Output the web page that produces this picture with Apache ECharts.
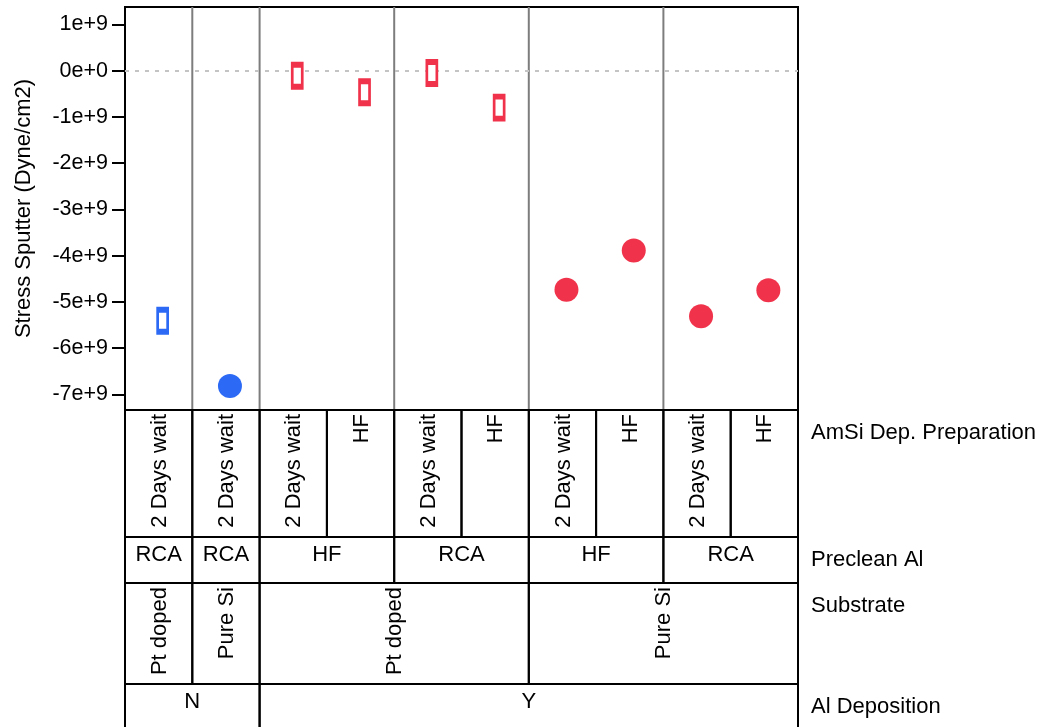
<!DOCTYPE html>
<html><head><meta charset="utf-8">
<script src="https://cdn.jsdelivr.net/npm/echarts@6/dist/echarts.min.js"></script>
<style>html,body{margin:0;padding:0;background:#fff}#c{width:1044px;height:727px}</style>
</head><body><div id="c"></div>
<script>
// ---- data ----
const columns = ['c1','c2','c3','c4','c5','c6','c7','c8','c9','c10'];
const alDeposition = ['N','N','Y','Y','Y','Y','Y','Y','Y','Y'];
const substrate = ['Pt doped','Pure Si','Pt doped','Pt doped','Pt doped','Pt doped','Pure Si','Pure Si','Pure Si','Pure Si'];
const precleanAl = ['RCA','RCA','HF','HF','RCA','RCA','HF','HF','RCA','RCA'];
const amsiPrep = ['2 Days wait','2 Days wait','2 Days wait','HF','2 Days wait','HF','2 Days wait','HF','2 Days wait','HF'];
const stress = [-5.41e9, -6.82e9, -0.11e9, -0.47e9, -0.05e9, -0.80e9, -4.74e9, -3.89e9, -5.31e9, -4.75e9];
const tickValues = [1e9, 0, -1e9, -2e9, -3e9, -4e9, -5e9, -6e9, -7e9];
const tickLabels = ['1e+9','0e+0','-1e+9','-2e+9','-3e+9','-4e+9','-5e+9','-6e+9','-7e+9'];
const factorNames = ['AmSi Dep. Preparation','Preclean Al','Substrate','Al Deposition'];
const yName = 'Stress Sputter (Dyne/cm2)';

// ---- layout / style ----
const FONT = '"Liberation Sans", Arial, sans-serif';
const RED = '#F0334A', BLUE = '#2C6AF5';
const rowTops = [0, 127, 173, 274, 340];
const rowVertical = [true, false, true, false];
// table rows top->bottom: innermost factor first
const levels = [amsiPrep, precleanAl, substrate, alDeposition];

// build nested groups (key includes all outer levels)
const cells = [];   // [start, end, row]
const cellLabels = [];
const sepBounds = [];
for (let r = 0; r < levels.length; r++) {
  let start = 0;
  const key = i => levels.slice(r).map(l => l[i]).join('|');
  for (let i = 1; i <= columns.length; i++) {
    if (i === columns.length || key(i) !== key(start)) {
      cells.push([start, i - 1, r]);
      cellLabels.push(levels[r][start]);
      if (r === 1 && i < columns.length) sepBounds.push([i, 0]);
      start = i;
    }
  }
}

const points = columns.map((c, i) => {
  const col = alDeposition[i] === 'N' ? BLUE : RED;
  const isRect = substrate[i] === 'Pt doped';
  return {
    value: [i, stress[i]],
    symbol: isRect ? 'rect' : 'circle',
    symbolSize: isRect ? [10, 22] : 24,
    itemStyle: isRect ? {color: '#fff', borderColor: col, borderWidth: 4, opacity: 1}
                      : {color: col, borderWidth: 0, opacity: 1}
  };
});

const chart = echarts.init(document.getElementById('c'));
chart.setOption({
  animation: false,
  backgroundColor: '#fff',
  grid: [
    {left: 125, right: 246, top: 7, height: 403, show: true, borderColor: '#000', borderWidth: 2, backgroundColor: 'transparent'},
    {left: 125, right: 246, top: 410, bottom: 0, show: false}
  ],
  xAxis: [
    {type: 'category', gridIndex: 0, data: columns, axisLine: {show: false}, axisTick: {show: false}, axisLabel: {show: false}, splitLine: {show: false}},
    {type: 'category', gridIndex: 1, data: columns, show: false}
  ],
  yAxis: [
    {type: 'value', gridIndex: 0, min: -7.338e9, max: 1.375e9,
     name: yName, nameLocation: 'middle', nameGap: 90,
     nameTextStyle: {fontSize: 22, fontFamily: FONT, color: '#000'},
     axisLine: {show: false},
     axisTick: {show: true, length: 13, customValues: tickValues, lineStyle: {color: '#000', width: 2}},
     axisLabel: {customValues: tickValues, margin: 17, fontSize: 21.5, fontFamily: FONT, color: '#000',
       formatter: v => { const k = tickValues.findIndex(t => Math.abs(t - v) < 1e3); return k >= 0 ? tickLabels[k] : ''; }},
     splitLine: {show: false}},
    {type: 'value', gridIndex: 1, min: 0, max: 1, show: false}
  ],
  series: [
    {
      type: 'custom', xAxisIndex: 0, yAxisIndex: 0, silent: true, clip: false, z: 1,
      data: sepBounds,
      renderItem: (params, api) => {
        const bw = api.size([1, 0])[0];
        const x = api.coord([api.value(0), 0])[0] - bw / 2;
        const cs = params.coordSys;
        return {type: 'line', shape: {x1: x, y1: cs.y, x2: x, y2: cs.y + cs.height},
          style: {stroke: '#7d7d7d', lineWidth: 2}};
      }
    },
    {
      type: 'scatter', xAxisIndex: 0, yAxisIndex: 0, z: 5,
      symbolOffset: [4, 0],
      itemStyle: {opacity: 1},
      data: points,
      emphasis: {disabled: true},
      markLine: {silent: true, symbol: ['none', 'none'], label: {show: false},
        lineStyle: {color: '#c4c4c4', type: [4, 6], width: 2, opacity: 1},
        data: [{yAxis: 0}]}
    },
    {
      type: 'custom', xAxisIndex: 1, yAxisIndex: 1, silent: true, clip: false,
      data: cells,
      encode: {x: [0, 1], y: 2},
      renderItem: (params, api) => {
        const s = api.value(0), e = api.value(1), r = api.value(2);
        const label = cellLabels[params.dataIndex];
        const bw = api.size([1, 0])[0];
        const x0 = api.coord([s, 0])[0] - bw / 2;
        const x1 = api.coord([e, 0])[0] + bw / 2;
        const cs = params.coordSys;
        const y0 = cs.y + rowTops[r], y1 = cs.y + rowTops[r + 1];
        const cx = (x0 + x1) / 2;
        const txt = rowVertical[r]
          ? {type: 'text', x: cx + 1, y: y0 + 4, rotation: Math.PI / 2,
             style: {text: label, align: 'right', verticalAlign: 'middle', fontSize: 22, fontFamily: FONT, fill: '#000'}}
          : {type: 'text', x: cx, y: y0 + 18,
             style: {text: label, align: 'center', verticalAlign: 'middle', fontSize: 22, fontFamily: FONT, fill: '#000'}};
        return {type: 'group', children: [
          {type: 'polyline', shape: {points: [[x0, y1], [x0, y0], [x1, y0], [x1, y1]]},
           style: {stroke: '#000', lineWidth: 2, fill: null}},
          txt
        ]};
      }
    },
    {
      type: 'custom', xAxisIndex: 1, yAxisIndex: 1, silent: true, clip: false,
      data: factorNames.map((n, i) => [0, i]),
      encode: {x: 0, y: 1},
      renderItem: (params, api) => {
        const cs = params.coordSys;
        const r = params.dataIndex;
        return {type: 'text', x: cs.x + cs.width + 13, y: cs.y + rowTops[r] + 23,
          style: {text: factorNames[r], align: 'left', verticalAlign: 'middle', fontSize: 22, fontFamily: FONT, fill: '#000'}};
      }
    }
  ]
});
</script>
</body></html>
